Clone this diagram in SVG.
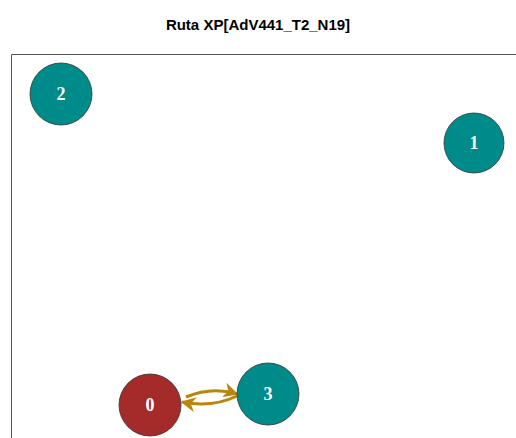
<svg xmlns="http://www.w3.org/2000/svg" width="516" height="438" viewBox="0 0 516 438">
<style>
.node circle{stroke:#333;stroke-width:0.8}
.teal{fill:#008B8B}
.red{fill:#A52A2A}
.lbl{font-family:"Liberation Serif",serif;font-weight:bold;font-size:18px;fill:#fff;text-anchor:middle}
.edge{fill:none;stroke:#B8860B;stroke-width:3}
.title{font-family:"Liberation Sans",Arial,sans-serif;font-weight:bold;font-size:15px;fill:#000;text-anchor:middle}
</style>
<defs>
<marker id="ah" viewBox="0 0 10 10" refX="9" refY="5" markerWidth="5" markerHeight="5" orient="auto" markerUnits="strokeWidth">
<path d="M0,0 L10,5 L0,10 L3,5 Z" fill="#B8860B"/>
</marker>
</defs>
<rect width="516" height="438" fill="#fff"/>
<text class="title" x="258" y="30">Ruta XP[AdV441_T2_N19]</text>
<path d="M11.5,440 V54.5 H520" fill="none" stroke="#555" stroke-width="1"/>
<g id="edges">
<path class="edge" d="M186,397 Q212,386 237,394" marker-end="url(#ah)"/>
<path class="edge" d="M237,396 Q212,408 182,402" marker-end="url(#ah)"/>
</g>
<g id="node2" class="node"><circle class="teal" cx="61" cy="94" r="31"/><text class="lbl" x="61" y="100">2</text></g>
<g id="node1" class="node"><circle class="teal" cx="474" cy="143" r="30"/><text class="lbl" x="474" y="149">1</text></g>
<g id="node0" class="node"><circle class="red" cx="150" cy="405" r="31"/><text class="lbl" x="150" y="411">0</text></g>
<g id="node3" class="node"><circle class="teal" cx="268" cy="394" r="31"/><text class="lbl" x="268" y="400">3</text></g>
</svg>
